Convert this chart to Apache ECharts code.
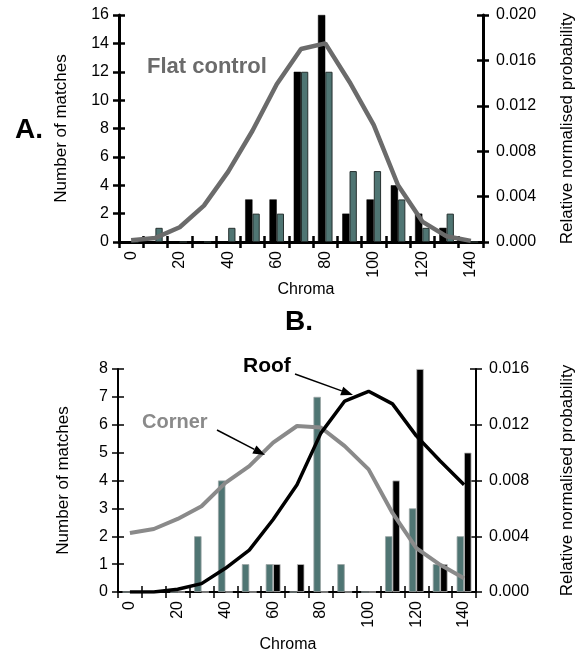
<!DOCTYPE html>
<html>
<head>
<meta charset="utf-8">
<script src="https://cdn.jsdelivr.net/npm/echarts@6/dist/echarts.min.js"></script>
<style>
html,body{margin:0;padding:0;background:#fff;}
#chart{width:584px;height:656px;}
</style>
</head>
<body>
<div id="chart"></div>
<script>
// ---- Data ----
const categories = ['0','10','20','30','40','50','60','70','80','90','100','110','120','130','140'];

// Panel A (Flat control)
const aBlack = [0,0,0,0,0,3,3,12,16,2,3,4,2,1,0];
const aTeal  = [0,1,0,0,1,2,2,12,12,5,5,3,1,2,0];
const aFlatProb = [0.00015,0.00036,0.0013,0.0032,0.0062,0.0098,0.0139,0.0170,0.0175,0.0141,0.0103,0.0050,0.0018,0.0005,0.0001];

// Panel B (Corner / Roof)
const bTeal  = [0,0,0,2,4,1,1,0,7,1,0,2,3,1,2];
const bBlack = [0,0,0,0,0,0,1,1,0,0,0,4,8,1,5];
const bCornerProb = [0.00423,0.00452,0.00524,0.00615,0.00783,0.00903,0.01072,0.01191,0.0118,0.01047,0.0088,0.00567,0.00315,0.00195,0.00099];
const bRoofProb   = [0,0,0.0002,0.0006,0.0017,0.0030,0.0052,0.0077,0.0114,0.0137,0.0144,0.0135,0.0112,0.0094,0.0077];

// Axis ranges
const aCountMax = 16, aCountStep = 2, aProbMax = 0.020, aProbStep = 0.004;
const bCountMax = 8,  bCountStep = 1, bProbMax = 0.016, bProbStep = 0.004;

// ---- Styling ----
const FONT = "'Liberation Sans', Arial, Helvetica, sans-serif";
const TEAL = '#4f7573';
const TEAL_BORDER = '#26302f';

function xAxes(grid, lw) {
  return [
    {
      type: 'category', gridIndex: grid, data: categories, position: 'bottom', boundaryGap: true,
      axisLine: {show: true, lineStyle: {color: '#000', width: lw}},
      axisTick: {show: true, interval: 0, length: 6, lineStyle: {color: '#000', width: lw - 0.5}},
      axisLabel: {interval: 1, rotate: 90, margin: 9, fontSize: 16, color: '#000', fontFamily: FONT},
      splitLine: {show: false},
      name: 'Chroma', nameLocation: 'middle', nameGap: grid === 0 ? 40 : 45,
      nameTextStyle: {fontSize: 16, color: '#000', fontFamily: FONT,
        padding: grid === 0 ? [0, 0, 0, 10] : [0, 18, 0, 0]}
    },
    {
      type: 'category', gridIndex: grid, data: categories, position: 'bottom', boundaryGap: true,
      axisLine: {show: false},
      axisTick: {show: true, inside: true, interval: 0, length: 6, lineStyle: {color: '#000', width: lw - 0.5}},
      axisLabel: {show: false}, splitLine: {show: false}
    }
  ];
}

function yAxes(grid, lw, cMax, cStep, pMax, pStep, gaps) {
  const base = (pos, min, max, step, inside) => ({
    type: 'value', gridIndex: grid, position: pos, min: min, max: max, interval: step,
    axisLine: {show: !inside, lineStyle: {color: '#000', width: lw}},
    axisTick: {show: true, inside: inside, length: 6, lineStyle: {color: '#000', width: lw - 0.5}},
    splitLine: {show: false}
  });
  const left = base('left', 0, cMax, cStep, false);
  left.axisLabel = {margin: 10, fontSize: 16, color: '#000', fontFamily: FONT};
  left.name = 'Number of matches';
  left.nameLocation = 'middle';
  left.nameGap = gaps[0];
  left.nameTextStyle = {fontSize: 17, color: '#000', fontFamily: FONT};
  const right = base('right', 0, pMax, pStep, false);
  right.axisLabel = {margin: 13, fontSize: 16, color: '#000', fontFamily: FONT,
    formatter: v => v.toFixed(3)};
  right.name = 'Relative normalised probability';
  right.nameLocation = 'middle';
  right.nameGap = gaps[1];
  right.nameTextStyle = {fontSize: 17, color: '#000', fontFamily: FONT};
  const leftIn = base('left', 0, cMax, cStep, true);
  leftIn.axisLabel = {show: false};
  const rightIn = base('right', 0, pMax, pStep, true);
  rightIn.axisLabel = {show: false};
  return [left, right, leftIn, rightIn];
}

function arrow(x1, y1, x2, y2, color) {
  const dx = x2 - x1, dy = y2 - y1;
  const L = Math.sqrt(dx * dx + dy * dy);
  const ux = dx / L, uy = dy / L;
  const head = 12, half = 4.5;
  const bx = x2 - ux * head, by = y2 - uy * head;
  return [
    {type: 'line', shape: {x1: x1, y1: y1, x2: bx, y2: by}, style: {stroke: color, lineWidth: 1.5}, z: 100},
    {type: 'polygon', shape: {points: [[x2, y2], [bx - uy * half, by + ux * half], [bx + uy * half, by - ux * half]]},
      style: {fill: color}, z: 100}
  ];
}

const chart = echarts.init(document.getElementById('chart'), null, {renderer: 'canvas'});

const option = {
  animation: false,
  backgroundColor: '#fff',
  grid: [
    {left: 119, top: 15, width: 373, height: 227, containLabel: false},
    {left: 118, top: 369, width: 366, height: 223, containLabel: false}
  ],
  xAxis: [].concat(xAxes(0, 3), xAxes(1, 2)),
  yAxis: [].concat(
    yAxes(0, 3, aCountMax, aCountStep, aProbMax, aProbStep, [49, 76]),
    yAxes(1, 2, bCountMax, bCountStep, bProbMax, bProbStep, [46, 83])
  ),
  series: [
    {type: 'bar', name: 'A black', xAxisIndex: 0, yAxisIndex: 0, data: aBlack,
      barGap: '0%', barCategoryGap: '40%',
      itemStyle: {color: '#000', borderColor: '#000', borderWidth: 0.5}},
    {type: 'bar', name: 'A teal', xAxisIndex: 0, yAxisIndex: 0, data: aTeal,
      barGap: '0%', barCategoryGap: '40%',
      itemStyle: {color: TEAL, borderColor: TEAL_BORDER, borderWidth: 1}},
    {type: 'line', name: 'Flat control', xAxisIndex: 0, yAxisIndex: 1, data: aFlatProb,
      symbol: 'none', lineStyle: {color: '#6b6b6b', width: 4.5}, z: 5},

    {type: 'bar', name: 'B teal', xAxisIndex: 2, yAxisIndex: 4, data: bTeal,
      barGap: '0%', barCategoryGap: '38%',
      itemStyle: {color: TEAL, borderColor: '#9aa5a4', borderWidth: 0.8}},
    {type: 'bar', name: 'B black', xAxisIndex: 2, yAxisIndex: 4, data: bBlack,
      barGap: '0%', barCategoryGap: '38%',
      itemStyle: {color: '#000', borderColor: '#bbbbbb', borderWidth: 0.8}},
    {type: 'line', name: 'Corner', xAxisIndex: 2, yAxisIndex: 5, data: bCornerProb,
      symbol: 'none', lineStyle: {color: '#8a8a8a', width: 4}, z: 5},
    {type: 'line', name: 'Roof', xAxisIndex: 2, yAxisIndex: 5, data: bRoofProb,
      symbol: 'none', lineStyle: {color: '#000', width: 3.5}, z: 6}
  ],
  graphic: [].concat(
    [
      {type: 'text', left: 15, top: 116, style: {text: 'A.', font: 'bold 28px ' + FONT, fill: '#000'}},
      {type: 'text', left: 285, top: 308, style: {text: 'B.', font: 'bold 28px ' + FONT, fill: '#000'}},
      {type: 'text', left: 147, top: 56, style: {text: 'Flat control', font: 'bold 22px ' + FONT, fill: '#6b6b6b'}, z: 100},
      {type: 'text', left: 243, top: 356, style: {text: 'Roof', font: 'bold 21px ' + FONT, fill: '#000'}, z: 100},
      {type: 'text', left: 142, top: 412, style: {text: 'Corner', font: 'bold 20px ' + FONT, fill: '#8a8a8a'}, z: 100}
    ],
    arrow(295, 374, 353, 395, '#000'),
    arrow(217, 430, 265, 455, '#000')
  )
};

chart.setOption(option);
</script>
</body>
</html>
